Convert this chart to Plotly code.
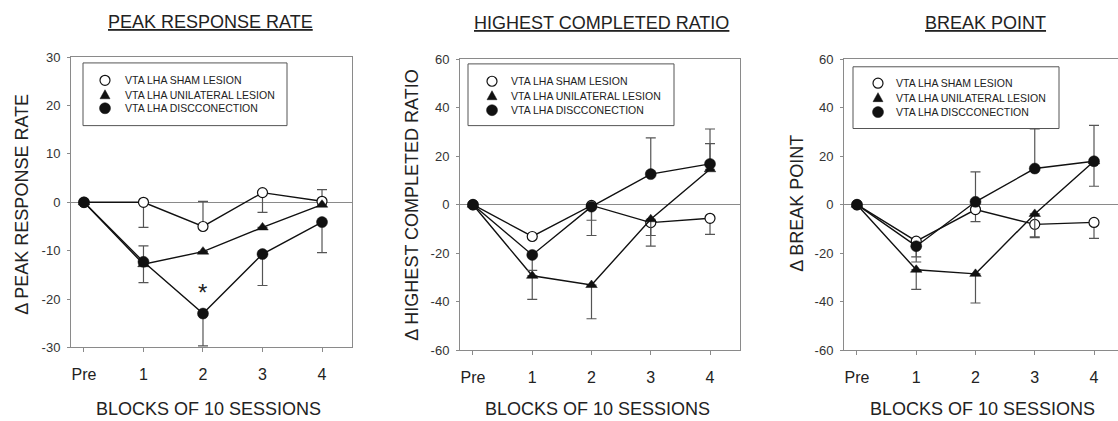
import plotly.graph_objects as go

# ---------------- data ----------------
blocks = ["Pre", "1", "2", "3", "4"]
series_names = ["VTA LHA SHAM LESION", "VTA LHA UNILATERAL LESION", "VTA LHA DISCCONECTION"]

# Panel 1: peak response rate
prr_sham = [0, 0, -5.0, 2.0, 0.2]
prr_uni = [0, -12.8, -10.2, -5.2, -0.5]
prr_disc = [0, -12.3, -23.0, -10.7, -4.1]
prr_sham_up = [0, 0, 5.2, 0, 2.4]
prr_sham_dn = [0, 5.2, 0, 4.1, 0]
prr_uni_up = [0, 3.8, 0, 0, 0]
prr_uni_dn = [0, 0, 0, 0, 0]
prr_disc_up = [0, 0, 0, 0, 0]
prr_disc_dn = [0, 4.3, 6.7, 6.5, 6.3]

# Panel 2: highest completed ratio
hcr_sham = [0, -13.1, -0.3, -7.4, -5.6]
hcr_uni = [0, -29.3, -33.1, -6.0, 14.6]
hcr_disc = [0, -20.7, -0.8, 12.6, 16.8]
hcr_sham_up = [0, 0, 0, 0, 0]
hcr_sham_dn = [0, 0, 6.1, 5.3, 6.6]
hcr_uni_up = [0, 0, 0, 0, 10.6]
hcr_uni_dn = [0, 9.7, 13.9, 11.1, 0]
hcr_disc_up = [0, 0, 0, 14.9, 14.4]
hcr_disc_dn = [0, 6.4, 11.9, 0, 0]

# Panel 3: break point
bp_sham = [0, -15.0, -2.0, -8.1, -7.3]
bp_uni = [0, -26.8, -28.5, -3.8, 17.9]
bp_disc = [0, -17.1, 1.2, 14.9, 17.9]
bp_sham_up = [0, 0, 0, 0, 0]
bp_sham_dn = [0, 6.5, 5.0, 5.1, 6.6]
bp_uni_up = [0, 0, 0, 0, 0]
bp_uni_dn = [0, 8.1, 12.0, 9.8, 10.3]
bp_disc_up = [0, 0, 12.3, 16.3, 14.8]
bp_disc_dn = [0, 6.5, 0, 0, 0]

panel_titles = ["PEAK RESPONSE RATE", "HIGHEST COMPLETED RATIO", "BREAK POINT"]
y_titles = ["\u0394 PEAK RESPONSE RATE", "\u0394 HIGHEST COMPLETED RATIO", "\u0394 BREAK POINT"]
x_title = "BLOCKS OF 10 SESSIONS"
y_ticks_p1 = [-30, -20, -10, 0, 10, 20, 30]
y_ticklabels_p1 = ["-30", "-20", "-10", "0", "10", "20", "30"]
y_ticks_p23 = [-60, -40, -20, 0, 20, 40, 60]
y_ticklabels_p23 = ["-60", "-40", "-20", "0", "20", "40", "60"]

# ---------------- layout geometry ----------------
W, H = 1118, 421
FONT = "Liberation Sans, Arial, sans-serif"
xs = list(range(len(blocks)))

panels = [
    dict(vals=[(prr_sham, prr_sham_up, prr_sham_dn), (prr_uni, prr_uni_up, prr_uni_dn), (prr_disc, prr_disc_up, prr_disc_dn)],
         xdom=(71, 352), ydom=(52, 353), xr=(-0.218, 4.504), yr=(-30, 30), yt=y_ticks_p1, ytt=y_ticklabels_p1,
         title_xy=(211, 16), ytitle_xy=(22, 205), xtitle_xy=(208, 417),
         leg_box=(83, 58, 287, 123), leg_mx=105, leg_tx=123, leg_rows=(76, 91, 105), mirror_y=True),
    dict(vals=[(hcr_sham, hcr_sham_up, hcr_sham_dn), (hcr_uni, hcr_uni_up, hcr_uni_dn), (hcr_disc, hcr_disc_up, hcr_disc_dn)],
         xdom=(460, 740), ydom=(54, 356), xr=(-0.219, 4.506), yr=(-60, 60), yt=y_ticks_p23, ytt=y_ticklabels_p23,
         title_xy=(601, 17), ytitle_xy=(412, 206), xtitle_xy=(597, 417),
         leg_box=(468, 59, 674, 123), leg_mx=492, leg_tx=509, leg_rows=(77, 92, 107), mirror_y=True),
    dict(vals=[(bp_sham, bp_sham_up, bp_sham_dn), (bp_uni, bp_uni_up, bp_uni_dn), (bp_disc, bp_disc_up, bp_disc_dn)],
         xdom=(844, 1118), ydom=(54, 356), xr=(-0.219, 4.405), yr=(-60, 60), yt=y_ticks_p23, ytt=y_ticklabels_p23,
         title_xy=(985, 17), ytitle_xy=(797, 204), xtitle_xy=(982, 417),
         leg_box=(853, 62, 1059, 126), leg_mx=878, leg_tx=894, leg_rows=(79, 94, 109), mirror_y=False),
]

def px(x):
    return x / W

def py(y):
    return 1 - y / H

marker_styles = [
    dict(symbol="circle", size=10, color="white", line=dict(color="#111", width=1.2)),
    dict(symbol="triangle-up", size=10, color="#111", line=dict(color="#111", width=0.5)),
    dict(symbol="circle", size=11, color="#111", line=dict(color="#111", width=0.5)),
]

fig = go.Figure()
shapes = []
annotations = []
layout_axes = {}

for i, p in enumerate(panels):
    sfx = "" if i == 0 else str(i + 1)
    xa, ya = "x" + sfx, "y" + sfx
    for j, (vals, up, dn) in enumerate(p["vals"]):
        fig.add_trace(go.Scatter(
            x=xs, y=vals, xaxis=xa, yaxis=ya, mode="lines+markers",
            name=series_names[j], showlegend=False,
            line=dict(color="#111", width=1.4),
            marker=marker_styles[j],
            error_y=dict(type="data", symmetric=False, array=up, arrayminus=dn,
                         color="#555", thickness=1.2, width=5),
            cliponaxis=False,
        ))
    x0, x1 = p["xdom"]
    y0, y1 = p["ydom"]
    layout_axes["xaxis" + sfx] = dict(
        domain=[px(x0), min(px(x1), 1.0)], range=list(p["xr"]), anchor=ya,
        tickvals=xs, ticktext=blocks, showline=True, linecolor="#8a8a8a", linewidth=1,
        mirror=True, ticks="outside", ticklen=4, tickcolor="#8a8a8a", showgrid=False,
        zeroline=False, ticklabelstandoff=8,
        tickfont=dict(family=FONT, size=16, color="#222"),
    )
    layout_axes["yaxis" + sfx] = dict(
        domain=[py(y1), py(y0)], range=list(p["yr"]), anchor=xa,
        tickvals=p["yt"], ticktext=p["ytt"], showline=True, linecolor="#8a8a8a", linewidth=1,
        mirror=p["mirror_y"], ticks="outside", ticklen=3, tickcolor="#8a8a8a", showgrid=False,
        zeroline=True, zerolinecolor="#8a8a8a", zerolinewidth=1, ticklabelstandoff=4,
        tickfont=dict(family=FONT, size=13, color="#333"),
    )
    # titles
    tx, ty = p["title_xy"]
    annotations.append(dict(text=panel_titles[i], x=px(tx), y=py(ty), xref="paper", yref="paper",
                            showarrow=False, xanchor="center", yanchor="middle",
                            font=dict(family=FONT, size=18, color="#222", lineposition="under")))
    tx, ty = p["ytitle_xy"]
    annotations.append(dict(text=y_titles[i], x=px(tx), y=py(ty), xref="paper", yref="paper",
                            showarrow=False, xanchor="center", yanchor="middle", textangle=-90,
                            font=dict(family=FONT, size=18, color="#222")))
    tx, ty = p["xtitle_xy"]
    annotations.append(dict(text=x_title, x=px(tx), y=py(ty), xref="paper", yref="paper",
                            showarrow=False, xanchor="center", yanchor="middle",
                            font=dict(family=FONT, size=18, color="#222")))
    # legend box
    bx0, by0, bx1, by1 = p["leg_box"]
    shapes.append(dict(type="rect", xref="paper", yref="paper", x0=px(bx0), x1=px(bx1),
                       y0=py(by1), y1=py(by0), line=dict(color="#555", width=1),
                       fillcolor="white", layer="above"))
    for j, ry in enumerate(p["leg_rows"]):
        common = dict(xref="paper", yref="paper", xsizemode="pixel", ysizemode="pixel",
                      xanchor=px(p["leg_mx"]), yanchor=py(ry), layer="above")
        if j == 0:
            shapes.append(dict(type="circle", x0=-5, x1=5, y0=-5, y1=5,
                               line=dict(color="#111", width=1.2), fillcolor="white", **common))
        elif j == 1:
            shapes.append(dict(type="path", path="M-5,-4 L5,-4 L0,5 Z",
                               line=dict(color="#111", width=0.5), fillcolor="#111", **common))
        else:
            shapes.append(dict(type="circle", x0=-5.5, x1=5.5, y0=-5.5, y1=5.5,
                               line=dict(color="#111", width=0.5), fillcolor="#111", **common))
        annotations.append(dict(text=series_names[j], x=px(p["leg_tx"]), y=py(ry),
                                xref="paper", yref="paper", showarrow=False,
                                xanchor="left", yanchor="middle",
                                font=dict(family=FONT, size=10.5, color="#222")))

# significance asterisk on panel 1
annotations.append(dict(text="*", x=2, y=-17.6, xref="x", yref="y", showarrow=False,
                        yshift=-5, font=dict(family=FONT, size=24, color="#222")))

fig.update_layout(
    width=W, height=H, margin=dict(l=0, r=0, t=0, b=0),
    paper_bgcolor="white", plot_bgcolor="white",
    shapes=shapes, annotations=annotations, showlegend=False,
    **layout_axes,
)

fig.write_html("out.html", config={"displayModeBar": False})
